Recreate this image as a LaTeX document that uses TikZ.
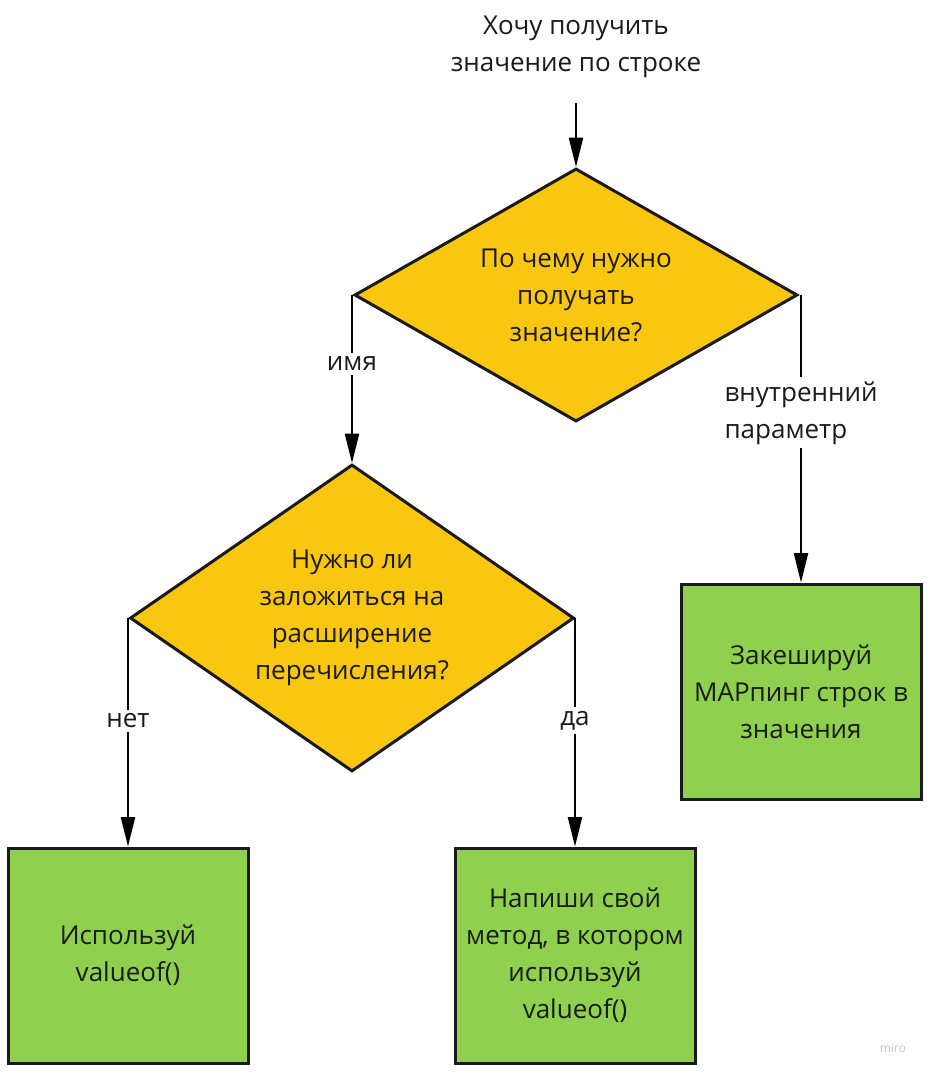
\documentclass[tikz,border=0pt]{standalone}
\usepackage{fontspec}
\setmainfont{Open Sans}
\usetikzlibrary{shapes.geometric,arrows.meta}
\definecolor{myyellow}{HTML}{FAC710}
\definecolor{mygreen}{HTML}{8FD14F}
\definecolor{ink}{HTML}{1A1A1A}
\begin{document}
\begin{tikzpicture}[x=0.75pt,y=-0.75pt,
  txt/.style={font=\fontsize{19.5pt}{27.75pt}\selectfont, text=ink, align=center, inner sep=0pt},
  decision/.style={diamond, draw=ink, line width=2.25pt, fill=myyellow, minimum width=332.25pt, minimum height=189.75pt, inner sep=0pt},
  action/.style={rectangle, draw=ink, line width=2.25pt, fill=mygreen, minimum width=180pt, minimum height=161.25pt, txt},
  conn/.style={draw=black, line width=1.5pt, -{Triangle[length=22pt,width=10.5pt]}},
  elabel/.style={txt, fill=white, inner sep=3pt}
]
\fill[white] (0,0) rectangle (930,1074);
\useasboundingbox (0,0) rectangle (930,1074);

\node[txt] (title) at (576,47) {Хочу получить\\значение по строке};
\coordinate (s0) at (576,103);
\node[decision, label={[txt]center:По чему нужно\\получать\\значение?}] (d1) at (576,295) {};
\node[decision, minimum width=333pt, minimum height=230.25pt, label={[txt]center:Нужно ли\\заложиться на\\расширение\\перечисления?}] (d2) at (352,618) {};
\node[action] (b1) at (128,955.5) {Используй\\valueof()};
\node[action] (b2) at (575,955.5) {Напиши свой\\метод, в котором\\используй\\valueof()};
\node[action] (b3) at (801,691.5) {Закешируй\\MAPпинг строк в\\значения};

\draw[conn] (s0) -- (d1.north);
\draw[conn] (d2.north |- d1.west) -- node[elabel, pos=0.41] {имя} (d2.north);
\draw[conn] (b3.north |- d1.east) -- node[elabel, pos=0.41, align=left] {внутренний\\параметр} (b3.north);
\draw[conn] (b1.north |- d2.west) -- node[elabel, pos=0.45] {нет} (b1.north);
\draw[conn] (b2.north |- d2.east) -- node[elabel, pos=0.45] {да} (b2.north);

\node[font=\fontsize{9pt}{10pt}\selectfont, text=gray!45] (wm) at (893,1048) {miro};
\end{tikzpicture}
\end{document}
